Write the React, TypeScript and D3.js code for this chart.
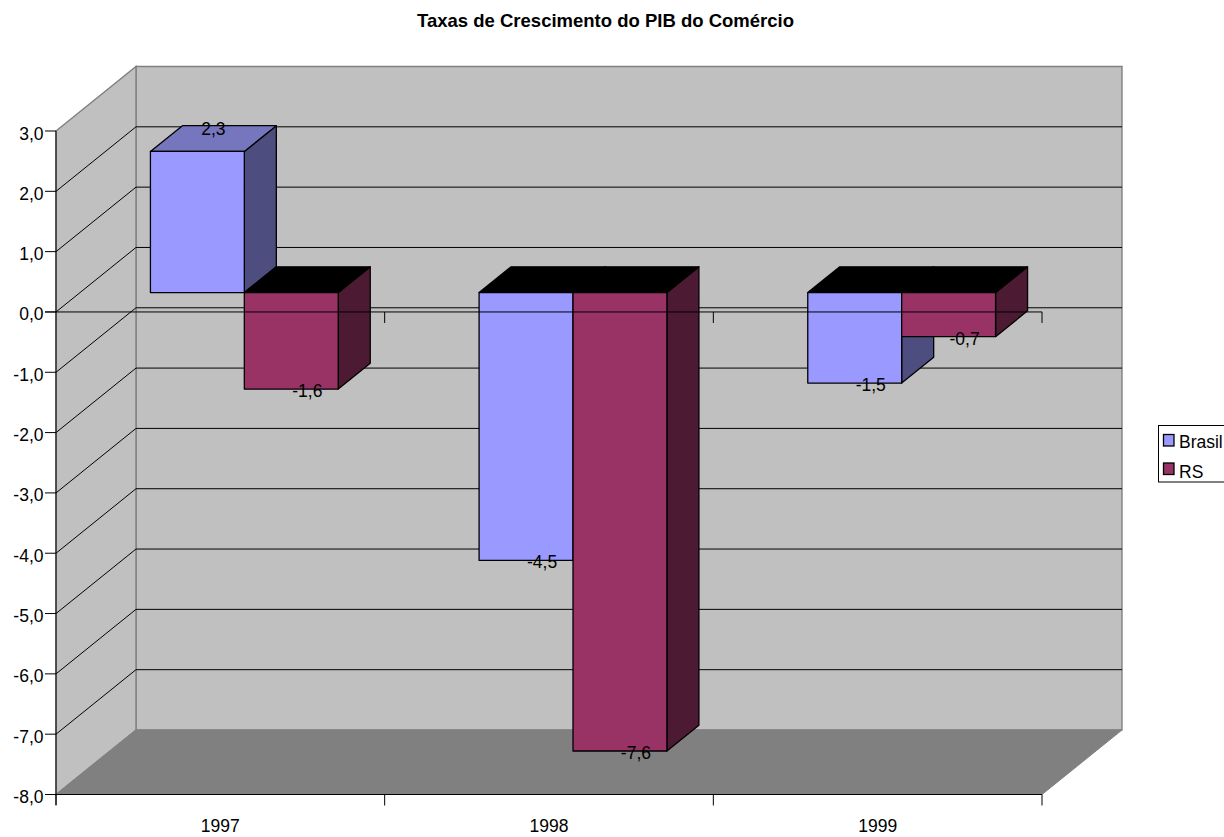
import React from "react";
import * as d3 from "d3";

const categories = ["1997", "1998", "1999"];
const seriesNames = ["Brasil", "RS"];
const brasilValues = [2.34, -4.44, -1.5];
const rsValues = [-1.6, -7.6, -0.73];
const brasilLabels = ["2,3", "-4,5", "-1,5"];
const rsLabels = ["-1,6", "-7,6", "-0,7"];
const yTicks = [3, 2, 1, 0, -1, -2, -3, -4, -5, -6, -7, -8];
const gridValues = [2, 1, 0, -1, -2, -3, -4, -5, -6, -7];
const baseColors = ["#9999FF", "#993366"];
const sideColors = ["#4D4D80", "#4D1A33"];
const topColors = ["#7676BE", "#000000"];

const FONT = "'Liberation Sans', Arial, sans-serif";
const DX = 80;
const DY = 64.5;
const BAR_NEAR = 0.3;
const BAR_DEPTH = 0.4;

const y = d3.scaleLinear().domain([-8, 3]).range([794.5, 131]);
const x = d3.scaleBand<string>().domain(categories).range([56, 1042]);
const xInner = d3
  .scaleBand<number>()
  .domain([0, 1])
  .range([0, x.bandwidth()])
  .paddingInner(0)
  .paddingOuter(0.75);

const pts = (p: [number, number][]) => d3.line()(p) + "Z";
const edges = [...categories.map((c) => x(c) as number), 1042];

export default function App() {
  const bars = categories.flatMap((c, ci) =>
    seriesNames.map((_, si) => {
      const v = si === 0 ? brasilValues[ci] : rsValues[ci];
      const x0 = (x(c) as number) + (xInner(si) as number) + DX * BAR_NEAR;
      const x1 = x0 + xInner.bandwidth();
      const yBase = y(0) - DY * BAR_NEAR;
      const yVal = y(v) - DY * BAR_NEAR;
      const ddx = DX * BAR_DEPTH;
      const ddy = DY * BAR_DEPTH;
      const topY = Math.min(yBase, yVal);
      const botY = Math.max(yBase, yVal);
      return { ci, si, v, x0, x1, topY, botY, ddx, ddy, yVal };
    })
  );

  return (
    <svg
      width={1224}
      height={837}
      style={{ position: "absolute", left: 0, top: 0, background: "#fff" }}
      fontFamily={FONT}
    >
      <text x={794} y={27} textAnchor="end" fontSize={18.5} fontWeight="bold" fill="#000">
        Taxas de Crescimento do PIB do Comércio
      </text>

      {/* walls */}
      <path
        d={pts([[136, y(3) - DY], [1122, y(3) - DY], [1122, y(-8) - DY], [136, y(-8) - DY]])}
        fill="#C0C0C0"
        stroke="#808080"
        strokeWidth={1.4}
      />
      <path
        d={pts([[56, y(3)], [136, y(3) - DY], [136, y(-8) - DY], [56, y(-8)]])}
        fill="#C0C0C0"
        stroke="#808080"
        strokeWidth={1.4}
      />
      <path
        d={pts([[56, y(-8)], [136, y(-8) - DY], [1122, y(-8) - DY], [1042, y(-8)]])}
        fill="#808080"
        stroke="#808080"
        strokeWidth={1}
      />

      {/* gridlines */}
      {gridValues.map((v) => (
        <path
          key={v}
          d={`M56,${y(v)}L136,${y(v) - DY}L1122,${y(v) - DY}`}
          fill="none"
          stroke="#000"
          strokeWidth={1}
        />
      ))}

      {/* bars */}
      {bars.map((b) => (
        <g key={`${b.ci}-${b.si}`} stroke="#000" strokeWidth={1.3} strokeLinejoin="round">
          <path
            d={pts([[b.x1, b.topY], [b.x1 + b.ddx, b.topY - b.ddy], [b.x1 + b.ddx, b.botY - b.ddy], [b.x1, b.botY]])}
            fill={sideColors[b.si]}
          />
          <path
            d={pts([[b.x0, b.topY], [b.x0 + b.ddx, b.topY - b.ddy], [b.x1 + b.ddx, b.topY - b.ddy], [b.x1, b.topY]])}
            fill={b.v < 0 ? "#000000" : topColors[b.si]}
          />
          <rect x={b.x0} y={b.topY} width={b.x1 - b.x0} height={b.botY - b.topY} fill={baseColors[b.si]} />
        </g>
      ))}

      {/* axes */}
      <path d={`M56,${y(3)}V805`} stroke="#000" strokeWidth={1} fill="none" />
      <path d={`M56,${y(-8)}H1042`} stroke="#000" strokeWidth={1.2} fill="none" />
      <path d={`M45,${y(0)}H1042`} stroke="#000" strokeWidth={1} fill="none" />
      {edges.map((e) => (
        <g key={e} stroke="#000" strokeWidth={1}>
          <line x1={e} x2={e} y1={y(-8)} y2={y(-8) + 11} />
          {e > 56 && <line x1={e} x2={e} y1={y(0)} y2={y(0) + 11} />}
        </g>
      ))}
      {yTicks.map((t) => (
        <g key={t}>
          <line x1={45} x2={56} y1={y(t)} y2={y(t)} stroke="#000" strokeWidth={1} />
          <text x={43.5} y={y(t) + 8.5} textAnchor="end" fontSize={17.5} fill="#000">
            {d3.format(".1f")(t).replace(".", ",").replace("−", "-")}
          </text>
        </g>
      ))}
      {categories.map((c) => (
        <text
          key={c}
          x={(x(c) as number) + x.bandwidth() / 2}
          y={832}
          textAnchor="middle"
          fontSize={17.5}
          fill="#000"
        >
          {c}
        </text>
      ))}

      {/* data labels */}
      {bars.map((b) => (
        <text
          key={`l-${b.ci}-${b.si}`}
          x={(b.x0 + b.x1) / 2 + b.ddx / 2}
          y={b.v > 0 ? b.topY - b.ddy + 9 : b.botY + 8}
          textAnchor="middle"
          fontSize={17.5}
          fill="#000"
        >
          {(b.si === 0 ? brasilLabels : rsLabels)[b.ci]}
        </text>
      ))}

      {/* legend */}
      <rect x={1158.5} y={425.5} width={80} height={56.5} fill="#fff" stroke="#000" strokeWidth={1} />
      {seriesNames.map((n, i) => (
        <g key={n}>
          <rect x={1163.5} y={434.5 + i * 28.5} width={10.5} height={11.5} fill={baseColors[i]} stroke="#000" strokeWidth={1.3} />
          <text x={1179} y={448 + i * 29.5} fontSize={17.5} fill="#000">
            {n}
          </text>
        </g>
      ))}
    </svg>
  );
}
